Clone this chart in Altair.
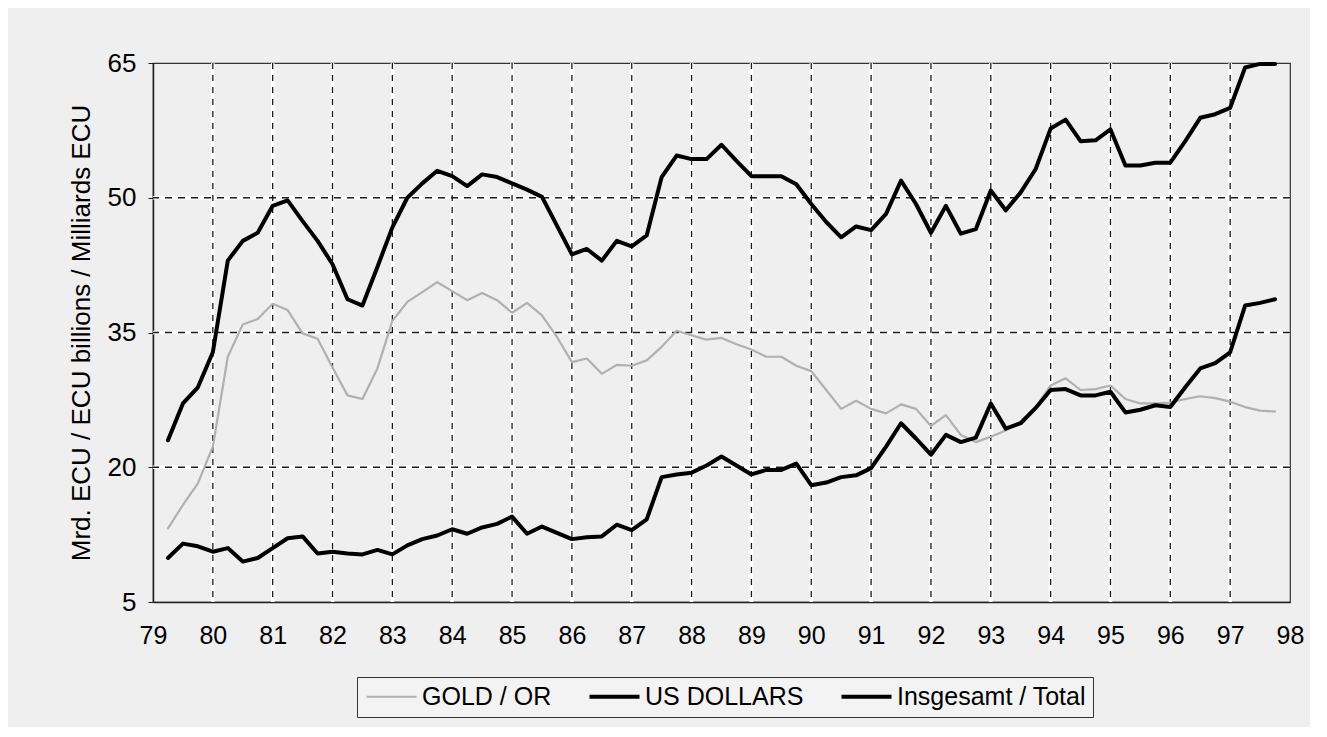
import altair as alt
import pandas as pd

# ---- data (quarterly, 1979 Q2 .. 1997 Q4) ----
x_ticks = list(range(79, 99))
y_ticks = [5, 20, 35, 50, 65]
series_names = ["GOLD / OR", "US DOLLARS", "Insgesamt / Total"]

quarters = [
    79.25, 79.5, 79.75, 80.0, 80.25, 80.5, 80.75, 81.0, 81.25, 81.5, 81.75, 82.0,
    82.25, 82.5, 82.75, 83.0, 83.25, 83.5, 83.75, 84.0, 84.25, 84.5, 84.75, 85.0,
    85.25, 85.5, 85.75, 86.0, 86.25, 86.5, 86.75, 87.0, 87.25, 87.5, 87.75, 88.0,
    88.25, 88.5, 88.75, 89.0, 89.25, 89.5, 89.75, 90.0, 90.25, 90.5, 90.75, 91.0,
    91.25, 91.5, 91.75, 92.0, 92.25, 92.5, 92.75, 93.0, 93.25, 93.5, 93.75, 94.0,
    94.25, 94.5, 94.75, 95.0, 95.25, 95.5, 95.75, 96.0, 96.25, 96.5, 96.75, 97.0,
    97.25, 97.5, 97.75,
]

gold = [
    13.2, 15.8, 18.2, 22.3, 32.3, 35.9, 36.5, 38.2, 37.5, 34.9, 34.3, 31.1,
    28.0, 27.6, 31.0, 36.3, 38.4, 39.5, 40.6, 39.6, 38.6, 39.4, 38.6, 37.2,
    38.3, 36.9, 34.5, 31.7, 32.1, 30.4, 31.4, 31.3, 31.9, 33.4, 35.2, 34.7,
    34.2, 34.4, 33.7, 33.1, 32.3, 32.3, 31.3, 30.7, 28.6, 26.5, 27.4, 26.5,
    26.0, 27.0, 26.5, 24.6, 25.8, 23.6, 22.8, 23.4, 24.1, 25.1, 26.7, 29.1,
    29.9, 28.6, 28.7, 29.1, 27.6, 27.1, 27.1, 27.2, 27.6, 27.9, 27.7, 27.3,
    26.7, 26.3, 26.2,
]

us_dollars = [
    9.9, 11.5, 11.2, 10.6, 11.0, 9.5, 9.9, 11.0, 12.1, 12.3, 10.4, 10.6,
    10.4, 10.3, 10.8, 10.3, 11.3, 12.0, 12.4, 13.1, 12.6, 13.3, 13.7, 14.5,
    12.6, 13.4, 12.7, 12.0, 12.2, 12.3, 13.6, 13.0, 14.2, 18.9, 19.2, 19.4,
    20.2, 21.2, 20.2, 19.2, 19.7, 19.7, 20.4, 18.0, 18.3, 18.9, 19.1, 19.9,
    22.3, 24.9, 23.2, 21.4, 23.6, 22.8, 23.3, 27.1, 24.3, 24.9, 26.6, 28.6,
    28.7, 28.0, 28.0, 28.4, 26.1, 26.4, 26.9, 26.7, 28.9, 31.0, 31.6, 32.8,
    38.0, 38.3, 38.7,
]

total = [
    23.0, 27.1, 28.9, 32.8, 43.0, 45.2, 46.1, 49.1, 49.7, 47.4, 45.2, 42.6,
    38.7, 38.0, 42.3, 46.7, 50.0, 51.6, 53.0, 52.4, 51.3, 52.6, 52.3, 51.6,
    50.9, 50.1, 46.9, 43.7, 44.3, 43.0, 45.2, 44.6, 45.8, 52.3, 54.7, 54.3,
    54.3, 55.9, 54.1, 52.4, 52.4, 52.4, 51.5, 49.3, 47.3, 45.6, 46.8, 46.4,
    48.2, 51.9, 49.3, 46.1, 49.1, 46.0, 46.5, 50.8, 48.6, 50.6, 53.2, 57.7,
    58.7, 56.3, 56.4, 57.6, 53.6, 53.6, 53.9, 53.9, 56.3, 58.9, 59.3, 60.0,
    64.5, 64.9, 64.9,
]

rows = []
for name, vals in zip(series_names, [gold, us_dollars, total]):
    for q, v in zip(quarters, vals):
        rows.append({"t": q, "v": v, "series": name})
df = pd.DataFrame(rows)

vgrid = pd.DataFrame({"t": x_ticks[1:-1]})
hgrid = pd.DataFrame({"v": y_ticks[1:-1]})

FONT = "Liberation Sans"
BG = "#efefef"

xscale = alt.Scale(domain=[79, 98], nice=False, zero=False)
yscale = alt.Scale(domain=[5, 65], nice=False, zero=False)

x_axis = alt.Axis(
    values=x_ticks,
    format="d",
    title=None,
    grid=False,
    labelFont=FONT,
    labelFontSize=25,
    labelColor="#000000",
    labelPadding=21,
    labelFlush=False,
    tickSize=0,
    domainColor="#222222",
    domainWidth=1.5,
)
y_axis = alt.Axis(
    values=y_ticks,
    title="Mrd. ECU / ECU billions / Milliards ECU",
    titleFont=FONT,
    titleFontSize=26,
    titleFontWeight="normal",
    titleColor="#000000",
    titlePadding=13,
    grid=False,
    labelFont=FONT,
    labelFontSize=26,
    labelColor="#000000",
    labelPadding=12,
    tickSize=5,
    tickColor="#222222",
    domainColor="#222222",
    domainWidth=1.5,
)

X = alt.X("t:Q", scale=xscale, axis=x_axis)
Y = alt.Y("v:Q", scale=yscale, axis=y_axis)

# white halo under the dashed grid lines
v_white = alt.Chart(vgrid).mark_rule(color="white", strokeWidth=3.5).encode(x=X)
v_dash = alt.Chart(vgrid).mark_rule(color="#1a1a1a", strokeWidth=1.3, strokeDash=[6, 6]).encode(x=X)
h_white = alt.Chart(hgrid).mark_rule(color="white", strokeWidth=3.5).encode(y=Y)
h_dash = alt.Chart(hgrid).mark_rule(color="#1a1a1a", strokeWidth=1.3, strokeDash=[7, 6]).encode(y=Y)

legend = alt.Legend(
    orient="none",
    legendX=204,
    legendY=614,
    direction="horizontal",
    title=None,
    labelFont=FONT,
    labelFontSize=25,
    labelColor="#000000",
    labelLimit=400,
    labelOffset=33,
    symbolType="M-1,0H4",
    symbolSize=400,
    symbolFillColor="transparent",
    columnPadding=29,
    padding=7,
    strokeColor="#333333",
    fillColor="#f3f3f3",
)

lines = alt.Chart(df).mark_line(strokeCap="round", strokeJoin="round").encode(
    x=X,
    y=Y,
    color=alt.Color(
        "series:N",
        scale=alt.Scale(domain=series_names, range=["#b0b0b0", "#000000", "#000000"]),
        legend=legend,
    ),
    strokeWidth=alt.StrokeWidth(
        "series:N",
        scale=alt.Scale(type="ordinal", domain=series_names, range=[2.2, 4, 4]),
        legend=legend,
    ),
    order=alt.Order("t:Q"),
)

chart = (
    alt.layer(v_white, h_white, v_dash, h_dash, lines)
    .properties(
        width=1137,
        height=539,
        autosize=alt.AutoSizeParams(type="none"),
        padding={"left": 145, "top": 55, "right": 20, "bottom": 125},
        background=BG,
    )
    .configure_view(stroke="#333333", strokeWidth=1.2, fill=BG)
)

chart.save("out.html", embed_options={"renderer": "svg", "actions": False})
